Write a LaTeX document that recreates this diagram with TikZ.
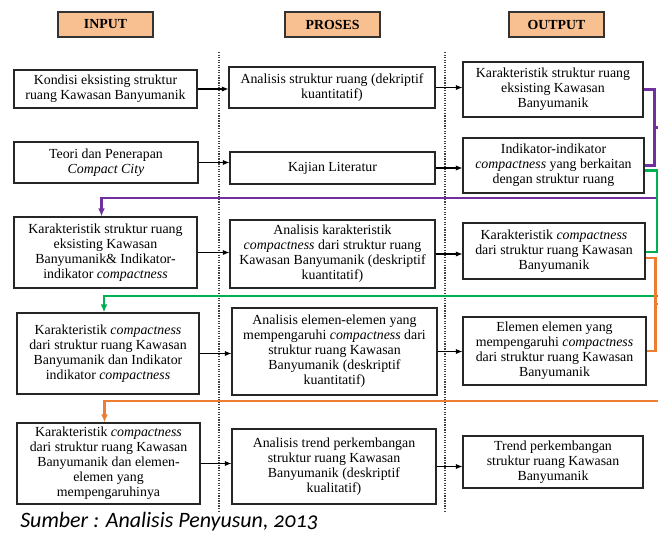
\documentclass[tikz,border=0pt]{standalone}
\usepackage{fontspec}
\setmainfont{Liberation Serif}
\newfontfamily\capfont[Numbers=OldStyle]{Carlito}
\usetikzlibrary{arrows.meta,calc}
\definecolor{headfill}{HTML}{F8C090}
\definecolor{purp}{HTML}{7030A0}
\definecolor{grn}{HTML}{00B050}
\definecolor{org}{HTML}{ED7D31}
% #1 style, #2 name, #3 x1, #4 y1, #5 x2, #6 y2, #7 text
\newcommand\Bx[7][box]{\node[#1, minimum width={(#5-#3)*0.75pt}, minimum height={(#6-#4)*0.75pt}] (#2) at ({(#3+#5)/2},{(#4+#6)/2}) {#7};}
\begin{document}
\begin{tikzpicture}[x=0.75pt,y=-0.75pt,
  box/.style={draw=black!85, fill=white, line width=0.8pt, align=center, inner sep=1pt, font=\fontsize{10.4}{11.3}\selectfont},
  head/.style={draw=black!80, fill=headfill, line width=0.8pt, inner sep=1pt, font=\fontsize{10.4}{12}\selectfont\bfseries},
  sep/.style={densely dotted, line width=0.9pt, black!75},
  arr/.style={-{Latex[length=5pt,width=4pt]}, line width=0.8pt, black},
  link/.style={line width=1.6pt},
  linkarr/.style={line width=1.6pt, -{Latex[length=6pt,width=5pt]}},
  captext/.style={anchor=base west, inner sep=0pt, font=\capfont\fontsize{16.5}{18}\selectfont\itshape}
]
\clip (0,0) rectangle (658,533);
\fill[white] (0,0) rectangle (658,533);

% headers
\Bx[head]{hin}{58}{12}{153}{37}{INPUT}
\Bx[head]{hpr}{285}{12}{380}{37}{PROSES}
\Bx[head]{hout}{509}{12}{604}{37}{OUTPUT}

% separators
\coordinate (s1t) at (219,52); \coordinate (s1b) at (219,513);
\coordinate (s2t) at (445,52); \coordinate (s2b) at (445,513);
\draw[sep] (s1t) -- (s1b);
\draw[sep] (s2t) -- (s2b);

% row 1
\Bx{in1}{14}{70}{197}{108}{Kondisi eksisting struktur\\ruang Kawasan Banyumanik}
\Bx{pr1}{229}{67}{435}{108}{Analisis struktur ruang (dekriptif\\kuantitatif)}
\Bx{out1}{463}{62}{643}{117}{Karakteristik struktur ruang\\eksisting Kawasan\\Banyumanik}
% row 2
\Bx{in2}{14}{142}{198}{183}{Teori dan Penerapan\\\textit{Compact City}}
\Bx{pr2}{230}{152}{435}{184}{Kajian Literatur}
\Bx{out2}{463}{138}{644}{193}{Indikator-indikator\\\textit{compactness} yang berkaitan\\dengan struktur ruang}
% row 3
\Bx{in3}{14}{217}{197}{288}{Karakteristik struktur ruang\\eksisting Kawasan\\Banyumanik\& Indikator-\\indikator \textit{compactness}}
\Bx{pr3}{230}{220}{435}{288}{Analisis karakteristik\\\textit{compactness} dari struktur ruang\\Kawasan Banyumanik (deskriptif\\kuantitatif)}
\Bx{out3}{463}{223}{645}{279}{Karakteristik \textit{compactness}\\dari struktur ruang Kawasan\\Banyumanik}
% row 4
\Bx{in4}{17}{313}{199}{394}{Karakteristik \textit{compactness}\\dari struktur ruang Kawasan\\Banyumanik dan Indikator\\indikator \textit{compactness}}
\Bx{pr4}{232}{308}{437}{395}{Analisis elemen-elemen yang\\mempengaruhi \textit{compactness} dari\\struktur ruang Kawasan\\Banyumanik (deskriptif\\kuantitatif)}
\Bx{out4}{463}{317}{646}{385}{Elemen elemen yang\\mempengaruhi \textit{compactness}\\dari struktur ruang Kawasan\\Banyumanik}
% row 5
\Bx{in5}{17}{423}{200}{504}{Karakteristik \textit{compactness}\\dari struktur ruang Kawasan\\Banyumanik dan elemen-\\elemen yang\\mempengaruhinya}
\Bx{pr5}{232}{429}{436}{504}{Analisis trend perkembangan\\struktur ruang Kawasan\\Banyumanik (deskriptif\\kualitatif)}
\Bx{out5}{463}{436}{643}{488}{Trend perkembangan\\struktur ruang Kawasan\\Banyumanik}

% black arrows
\foreach \r in {1,...,5}{
  \draw[arr] (in\r.east) -- (in\r.east -| pr\r.west);
  \draw[arr] (pr\r.east) -- (pr\r.east -| out\r.west);
}

% purple feedback
\draw[link,purp] (out1.east) -| ($(out2.east)+(10,0)$) -- (out2.east);
\coordinate (pm) at ($(out1.east)!0.5!(out2.east)+(10,0)$);
\draw[linkarr,purp] (pm) -- ++(12,0) |- (300,198) -| ($(in3.north)+(-4,0)$);

% green feedback
\draw[link,grn] ($(out2.east)+(0,5)$) -| ($(out3.east)+(12,1)$) -- ($(out3.east)+(0,1)$);
\coordinate (gm) at (657,211);
\draw[linkarr,grn] (gm) -- ++(8,0) |- (300,296) -| ($(in4.north)+(-4,0)$);

% orange feedback
\draw[link,org] ($(out3.east)+(0,7)$) -| ($(out4.east)+(9,0)$) -- (out4.east);
\coordinate (om) at (655,304);
\draw[linkarr,org] (om) -- ++(10,0) |- (300,401) -| ($(in5.north)+(-4,0)$);

% caption
\node[captext] (caption) at (20,527) {Sumber : Analisis Penyusun, 2013};
\end{tikzpicture}
\end{document}
